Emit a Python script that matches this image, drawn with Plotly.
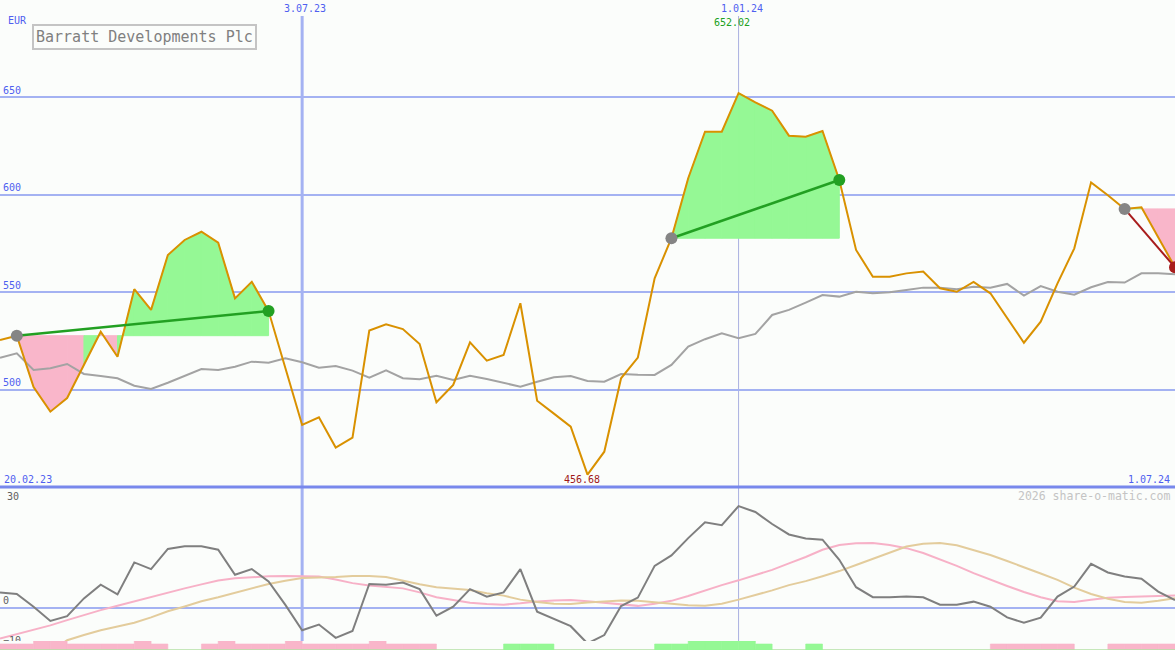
import plotly.graph_objects as go
import pandas as pd

# ---------------- data ----------------
dates = pd.date_range("2023-02-27", periods=71, freq="7D")

price = [525.6, 527.8, 501.5, 488.9, 495.9, 512.8, 529.8, 517.0, 551.6, 541.0,
         569.1, 576.8, 581.0, 575.4, 546.9, 555.4, 540.4, 511.3, 482.1, 486.0,
         470.5, 475.6, 530.4, 533.6, 531.2, 523.5, 493.7, 502.6, 524.4, 515.0,
         517.9, 544.4, 494.5, 487.9, 481.2, 456.68, 468.4, 506.0, 516.6, 557.2,
         577.7, 608.4, 632.2, 632.2, 652.02, 647.3, 643.0, 630.2, 629.7, 632.6,
         607.5, 571.7, 558.0, 558.0, 559.7, 560.6, 552.1, 550.3, 555.3, 549.5,
         537.0, 524.2, 535.0, 554.6, 572.5, 606.3, 599.7, 592.7, 593.5, 578.5,
         562.8]

ma = [516.5, 518.8, 510.2, 511.1, 513.3, 508.2, 507.2, 506.0, 502.2, 500.5,
      503.7, 507.2, 510.7, 510.2, 511.9, 514.5, 514.0, 516.2, 514.2, 511.4,
      512.3, 509.9, 506.3, 510.0, 506.0, 505.5, 507.3, 505.1, 507.3, 505.6,
      503.7, 501.7, 504.2, 506.5, 507.2, 504.6, 504.2, 508.2, 507.8, 507.7,
      512.8, 522.2, 526.0, 529.0, 526.5, 528.7, 538.4, 541.0, 544.7, 548.6,
      547.8, 550.3, 549.5, 550.0, 551.2, 552.4, 552.4, 551.6, 552.9, 552.4,
      554.3, 548.3, 553.2, 550.3, 548.8, 552.6, 555.3, 555.0, 559.7, 559.7,
      559.2]

momentum = [3.75, 3.4, 0.25, -3.3, -2.1, 2.3, 5.7, 3.3, 11.25, 9.6,
            14.6, 15.25, 15.25, 14.4, 8.2, 9.6, 6.5, 0.7, -5.6, -4.2,
            -7.5, -5.8, 5.9, 5.7, 6.25, 4.6, -2.0, 0.25, 4.6, 2.75,
            3.8, 9.6, -1.0, -2.9, -4.6, -8.9, -6.8, 0.4, 2.5, 10.4,
            13.0, 17.3, 21.25, 20.5, 25.25, 23.8, 20.8, 18.2, 17.2, 16.9,
            11.9, 5.1, 2.6, 2.6, 2.75, 2.6, 0.75, 0.75, 1.5, 0.25,
            -2.4, -3.75, -2.5, 2.75, 5.25, 10.9, 8.75, 7.75, 7.2, 4.0,
            1.9]

signal_pink = [-7.65, -6.6, -5.6, -4.4, -3.1, -1.8, -0.6, 0.5, 1.6, 2.75,
               3.8, 4.8, 5.8, 6.75, 7.3, 7.6, 7.8, 7.9, 7.9, 7.75,
               7.0, 6.1, 5.5, 5.1, 4.8, 3.8, 2.6, 1.9, 1.2, 0.9,
               0.75, 1.1, 1.55, 1.8, 1.9, 1.6, 1.2, 0.7, 0.45, 1.0,
               1.7, 2.9, 4.3, 5.6, 6.8, 8.1, 9.4, 11.0, 12.6, 14.4,
               15.6, 16.0, 16.1, 15.6, 14.8, 13.6, 12.0, 10.4, 8.6, 6.9,
               5.4, 3.9, 2.6, 1.6, 1.4, 2.0, 2.45, 2.65, 2.8, 2.9,
               3.0]

signal_tan = [None, None, None, -11.0, -8.1, -6.8, -5.6, -4.7, -3.75, -2.4,
              -0.9, 0.3, 1.6, 2.6, 3.7, 4.8, 5.9, 6.7, 7.35, 7.5,
              7.6, 7.9, 7.9, 7.6, 6.7, 5.8, 5.1, 4.8, 4.4, 3.6,
              3.0, 2.0, 1.4, 1.0, 0.9, 1.3, 1.6, 1.8, 1.7, 1.3,
              0.9, 0.6, 0.5, 1.0, 2.0, 3.1, 4.3, 5.6, 6.6, 7.8,
              9.1, 10.6, 12.1, 13.7, 15.2, 15.9, 16.1, 15.5, 14.3, 13.1,
              11.6, 10.1, 8.5, 6.9, 5.0, 3.4, 2.2, 1.4, 1.2, 1.7,
              2.35]

# weekly strength bars (one per week interval), 2 = short, 3 = tall
pink_bars = [2, 2, 3, 3, 2, 2, 2, 2, 3, 2,
             0, 0, 2, 3, 2, 2, 2, 3, 2, 2,
             2, 2, 3, 2, 2, 2, 0, 0, 0, 0,
             0, 0, 0, 0, 0, 0, 0, 0, 0, 0,
             0, 0, 0, 0, 0, 0, 0, 0, 0, 0,
             0, 0, 0, 0, 0, 0, 0, 0, 0, 2,
             2, 2, 2, 2, 0, 0, 2, 2, 2, 2]
green_bars = [0, 0, 0, 0, 0, 0, 0, 0, 0, 0,
              0, 0, 0, 0, 0, 0, 0, 0, 0, 0,
              0, 0, 0, 0, 0, 0, 0, 0, 0, 0,
              2, 2, 2, 0, 0, 0, 0, 0, 0, 2,
              2, 3, 3, 3, 3, 2, 0, 0, 2, 0,
              0, 0, 0, 0, 0, 0, 0, 0, 0, 0,
              0, 0, 0, 0, 0, 0, 0, 0, 0, 0]

# trades: (entry index, exit index)
trades = [(1, 16), (40, 50), (67, 70)]

title = "Barratt Developments Plc"
currency = "EUR"

# ---------------- styles ----------------
BG = "#fbfdfb"
GRID = "#a4b2f2"
LBL = "#4f5ff0"
FONT = "DejaVu Sans Mono"
GREEN_FILL = "#95f895"
PINK_FILL = "#f9b6ca"

fig = go.Figure()

# fills between price and entry level
for (a, b) in trades:
    level = price[a]
    for j in range(a, b):
        col = GREEN_FILL if price[j + 1] > level else PINK_FILL
        fig.add_trace(go.Scatter(
            x=[dates[j], dates[j], dates[j + 1], dates[j + 1], dates[j]],
            y=[level, price[j], price[j + 1], level, level],
            mode="lines", fill="toself", fillcolor=col,
            line=dict(width=1, color=col), hoverinfo="skip", yaxis="y"))

# moving average
fig.add_trace(go.Scatter(x=dates, y=ma, mode="lines",
                         line=dict(color="#a3a3a3", width=2), yaxis="y"))
# price
fig.add_trace(go.Scatter(x=dates, y=price, mode="lines",
                         line=dict(color="#d99100", width=2), yaxis="y"))

# trade lines and markers
for (a, b) in trades:
    win = price[b] > price[a]
    col = "#22a022" if win else "#a81c1c"
    fig.add_trace(go.Scatter(x=[dates[a], dates[b]], y=[price[a], price[b]],
                             mode="lines", line=dict(color=col, width=2.5 if win else 2),
                             yaxis="y"))
    fig.add_trace(go.Scatter(x=[dates[a]], y=[price[a]], mode="markers",
                             marker=dict(color="#858585", size=12), yaxis="y"))
    fig.add_trace(go.Scatter(x=[dates[b]], y=[price[b]], mode="markers",
                             marker=dict(color=col, size=12), yaxis="y"))

# lower panel
week_ms = 7 * 24 * 3600 * 1000
fig.add_trace(go.Bar(x=dates[:-1], y=pink_bars, marker=dict(color=PINK_FILL, line=dict(width=0.6, color=PINK_FILL)),
                     width=week_ms, offset=0, yaxis="y3"))
fig.add_trace(go.Bar(x=dates[:-1], y=green_bars, marker=dict(color=GREEN_FILL, line=dict(width=0.6, color=GREEN_FILL)),
                     width=week_ms, offset=0, yaxis="y3"))
fig.add_trace(go.Scatter(x=dates, y=signal_pink, mode="lines",
                         line=dict(color="#f7b1c7", width=2), yaxis="y2"))
fig.add_trace(go.Scatter(x=dates, y=signal_tan, mode="lines",
                         line=dict(color="#e3cc9c", width=2), yaxis="y2"))
fig.add_trace(go.Scatter(x=dates, y=momentum, mode="lines",
                         line=dict(color="#7f7f7f", width=2), yaxis="y2"))

split = 163 / 650
fig.update_layout(
    width=1175, height=650,
    margin=dict(l=0, r=0, t=0, b=0),
    paper_bgcolor=BG, plot_bgcolor=BG,
    showlegend=False, barmode="overlay", hovermode=False,
    xaxis=dict(type="date", range=[dates[0], dates[-1]], showgrid=False,
               zeroline=False, showticklabels=False, showline=False),
    yaxis=dict(domain=[split, 1], range=[450.33, 699.66],
               tickvals=[500, 550, 600, 650], showgrid=True, gridcolor=GRID, gridwidth=2,
               ticklabelposition="inside top", ticks="", zeroline=False, showline=False,
               tickfont=dict(family=FONT, size=10, color=LBL)),
    yaxis2=dict(domain=[0, split], range=[-10.52, 30.0], tickvals=[0, -10],
                showgrid=False, zeroline=True, zerolinecolor=GRID, zerolinewidth=2,
                ticklabelposition="inside top", ticks="", showline=False,
                tickfont=dict(family=FONT, size=10, color="#606060")),
    yaxis3=dict(domain=[0, 9 / 650], range=[0, 3], visible=False),
)

shapes = [
    dict(type="line", xref="x", yref="paper", x0=pd.Timestamp("2023-07-03"), x1=pd.Timestamp("2023-07-03"),
         y0=0, y1=1 - 16 / 650, line=dict(color=GRID, width=3), layer="below"),
    dict(type="line", xref="x", yref="paper", x0=pd.Timestamp("2024-01-01"), x1=pd.Timestamp("2024-01-01"),
         y0=0, y1=1 - 16 / 650, line=dict(color="#aab0e0", width=1), layer="below"),
    dict(type="line", xref="paper", yref="paper", x0=0, x1=1, y0=split, y1=split,
         line=dict(color="#7888ec", width=3), layer="above"),
]
fig.update_layout(shapes=shapes)

imax = price.index(max(price))
imin = price.index(min(price))

def ann(text, x, y, xref="paper", xanchor="center", color=LBL, size=10, xshift=0, **kw):
    fig.add_annotation(text=text, x=x, y=1 - y / 650, xref=xref, yref="paper",
                       xanchor=xanchor, yanchor="middle", showarrow=False, xshift=xshift,
                       font=dict(family=FONT, size=size, color=color), **kw)

ann(currency, 6 / 1175, 21, xanchor="left")
ann("3.07.23", pd.Timestamp("2023-07-03"), 9, xref="x", xshift=3)
ann("1.01.24", pd.Timestamp("2024-01-01"), 9, xref="x", xshift=3)
ann(f"{price[imax]:.2f}", dates[imax], 22, xref="x", xshift=-7, color="#20a020")
ann(f"{price[imin]:.2f}", dates[imin], 479, xref="x", xshift=-6, color="#a01818")
ann("20.02.23", 2 / 1175, 479, xanchor="left")
ann("1.07.24", 1172 / 1175, 479, xanchor="right")
ann("30", 5 / 1175, 496, xanchor="left", color="#606060")
ann("2026 share-o-matic.com", 1172 / 1175, 496, xanchor="right", color="#c4c4c4", size=11.5)
fig.add_annotation(text=title, x=32 / 1175, y=1 - 24 / 650, xref="paper", yref="paper",
                   xanchor="left", yanchor="top", showarrow=False,
                   font=dict(family=FONT, size=15, color="#808080"),
                   bordercolor="#c4c4c4", borderwidth=2, borderpad=2, bgcolor=BG)

fig.write_html("out.html", config={"displayModeBar": False},
               post_script="document.body.style.margin='0';document.body.style.overflow='hidden';")
